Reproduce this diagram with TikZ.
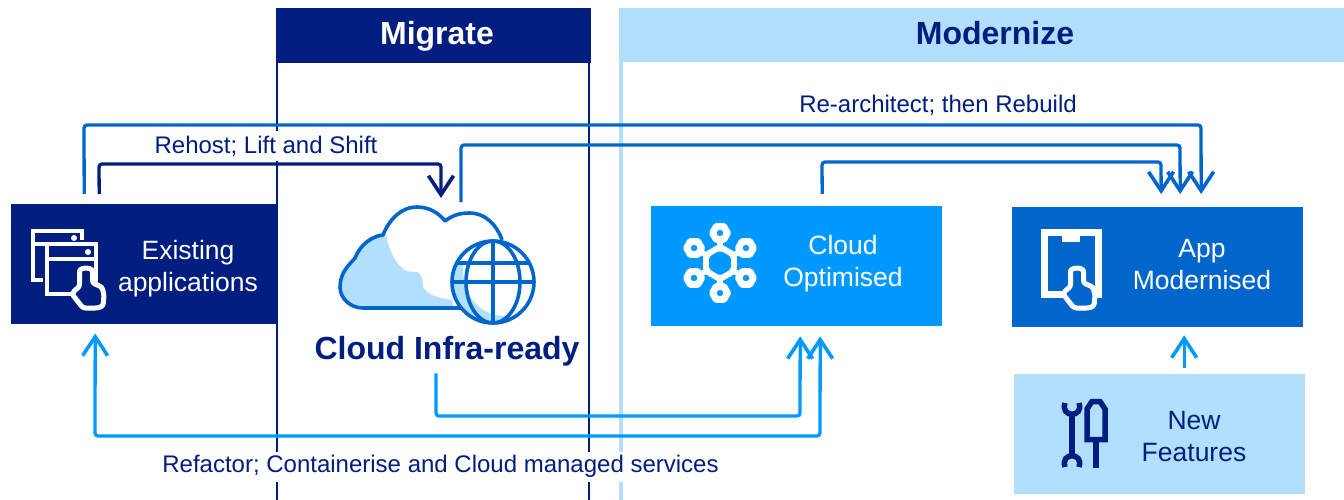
\documentclass[tikz,border=0pt]{standalone}
\usepackage{fontspec}
\setmainfont{Liberation Sans}
\usetikzlibrary{arrows.meta}
\definecolor{navy}{HTML}{001E7F}
\definecolor{midblue}{HTML}{0066CC}
\definecolor{brightblue}{HTML}{0099FF}
\definecolor{paleblue}{HTML}{B3DFFF}
\tikzset{
  tipbarb/.tip={Straight Barb[length=19pt,width=25pt,line width=3.6pt]},
  conn/.style={line width=3.3pt,rounded corners=3pt,-{tipbarb}},
  connboth/.style={line width=3.3pt,rounded corners=3pt,{tipbarb}-{tipbarb}},
  band/.style={inner sep=0pt,minimum height=#1,anchor=north west},
  boxnode/.style={inner sep=0pt,minimum width=291pt,minimum height=120pt,anchor=north west},
  boxtext/.style={font=\fontsize{26.5}{32}\selectfont,align=center,text=white},
  edgelabel/.style={font=\fontsize{24}{28}\selectfont,text=navy,fill=white,inner xsep=0pt,inner ysep=0pt,minimum height=30pt},
  headtext/.style={font=\fontsize{32}{38}\selectfont\bfseries},
  sepline/.style={navy,line width=2.8pt},
}
\newcommand{\handicon}[3]{%
  \begin{scope}[shift={(#1,#2)}]
    \draw[white,line width=5pt,fill=#3,line join=round,rounded corners=2.5pt]
      (-6.5,18) -- (-6.5,5) .. controls (-6.5,-2) and (6.5,-2) .. (6.5,5) -- (6.5,14)
      -- (16,18) -- (18,26) -- (17,37) -- (12,39) -- (-3,39) -- (-7,34) -- (-14,25) -- (-10,20) -- cycle;
  \end{scope}}
\begin{document}
\begin{tikzpicture}[x=1pt,y=-1pt]
\useasboundingbox (0,0) rectangle (1344,500);
% separators
\coordinate (sepAt) at (277,8); \coordinate (sepAb) at (277,500);
\coordinate (sepBt) at (589,8); \coordinate (sepBb) at (589,500);
\coordinate (sepCt) at (621,8); \coordinate (sepCb) at (621,500);
\draw[sepline] (sepAt) -- (sepAb);
\draw[sepline] (sepBt) -- (sepBb);
\draw[paleblue,line width=3.5pt] (sepCt) -- (sepCb);
% headers
\node[band=55pt,minimum width=314pt,fill=navy] (migrate) at (277,8) {};
\node[headtext,text=white] (migratet) at (437,36) {Migrate};
\node[band=54pt,minimum width=725pt,fill=paleblue] (modern) at (619,8) {};
\node[headtext,text=navy] (modernt) at (995,33) {Modernize};
% boxes
\node[boxnode,minimum width=267pt,fill=navy] (exist) at (11,204) {};
\node[boxnode,fill=brightblue] (copt) at (651,206) {};
\node[boxnode,fill=midblue] (amod) at (1012,207) {};
\node[boxnode,fill=paleblue] (newf) at (1014,374) {};
\node[boxtext] (existt) at (188,269) {Existing\\applications};
\node[boxtext] (coptt) at (843,263.5) {Cloud\\Optimised};
\node[boxtext] (amodt) at (1202,265) {App\\Modernised};
\node[boxtext,text=navy] (newft) at (1194,437) {New\\Features};
% cloud target anchor
\node[headtext,text=navy] (cloudt) at (447,351) {Cloud Infra-ready};
\coordinate (cloudtop) at (461,202);
\coordinate (cloudin) at (441,198);
% existing icon
\draw[white,line width=4.7pt,line join=miter] (33,231) rectangle (82,280);
\fill[navy] (43,240) rectangle (96,294);
\draw[white,line width=4.7pt] (33,244) -- (46,244);
\fill[white] (74,238) circle (3pt);
\draw[white,line width=4.7pt] (47,244) rectangle (96,294);
\draw[white,line width=4.7pt] (47,259) -- (96,259);
\fill[white] (88,252) circle (3pt);
\handicon{86}{269}{navy}
% cloud optimised icon
\begin{scope}[shift={(720,263)}]
  \foreach \a in {30,90,...,330} {
    \draw[white,line width=5.5pt] (0,0) -- (\a:22);
    \fill[white,rounded corners=2pt] (\a:30) ++(0:11.5) -- ++(120:11.5) -- ++(180:11.5) -- ++(240:11.5) -- ++(300:11.5) -- ++(0:11.5) -- cycle;
    \fill[brightblue] (\a:30) circle (3.2pt);
  }
  \fill[white,rounded corners=2pt] (30:19.5) -- (90:19.5) -- (150:19.5) -- (210:19.5) -- (270:19.5) -- (330:19.5) -- cycle;
  \fill[brightblue,rounded corners=2pt] (30:12.5) -- (90:12.5) -- (150:12.5) -- (210:12.5) -- (270:12.5) -- (330:12.5) -- cycle;
\end{scope}
% app icon
\draw[white,line width=7pt] (1044.5,232.5) rectangle (1098.5,294.5);
\fill[white] (1062,229) rectangle (1080,242);
\handicon{1077}{269}{midblue}
% tools icon
\fill[navy] (1069,412) rectangle (1075,458);
\draw[navy,line width=5.5pt] (1065,403) .. controls (1060,418) and (1084,418) .. (1079,403);
\draw[navy,line width=5.5pt] (1065,467) .. controls (1060,452) and (1084,452) .. (1079,467);
\draw[navy,line width=5.5pt,line join=miter] (1087,439.5) -- (1087,409) -- (1092,401.5) -- (1100,401.5) -- (1105,409) -- (1105,439.5) -- cycle;
\fill[navy] (1093,442) rectangle (1099,468);
% cloud icon
\fill[paleblue] (363,308) .. controls (350,308) and (340,298) .. (340,287) .. controls (340,272) and (350,264) .. (355,258)
  .. controls (360,245) and (372,236) .. (386,235) .. controls (390,255) and (400,272) .. (412,272)
  .. controls (422,270) and (422,278) .. (423,287) .. controls (428,296) and (440,298) .. (452,300) .. controls (453,304) and (453,306) .. (453,308) -- cycle;
\draw[midblue,line width=3.6pt,line join=round] (463,308) -- (363,308) .. controls (350,308) and (340,298) .. (340,287)
  .. controls (340,272) and (350,264) .. (355,258) .. controls (360,245) and (372,236) .. (383,235)
  .. controls (390,218) and (402,207) .. (417,207) .. controls (428,207) and (438,212) .. (445,221)
  .. controls (453,215) and (460,213) .. (470,213) .. controls (485,213) and (497,225) .. (502,240);
% globe
\fill[white] (493,282) circle (41pt);
\begin{scope}
  \clip (493,282) circle (41pt);
  \fill[paleblue] (463,264) .. controls (461,295) and (480,318) .. (510,316) -- (510,330) -- (440,330) -- (440,264) -- cycle;
  \draw[midblue,line width=3.6pt] (440,263) -- (550,263);
  \draw[midblue,line width=3.6pt] (440,282) -- (550,282);
\end{scope}
\draw[midblue,line width=3.6pt] (493,241) -- (493,323);
\draw[midblue,line width=3.6pt] (493,282) ellipse (27pt and 41pt);
\draw[midblue,line width=3.6pt] (493,282) circle (41pt);
% labels (their white ground breaks the separators)
\node[edgelabel] (l1) at (938,105) {Re-architect; then Rebuild};
\node[edgelabel] (l2) at (266,146) {Rehost; Lift and Shift};
\node[edgelabel] (l3) at (440.5,466.5) {Refactor; Containerise and Cloud managed services};
% connectors
\draw[conn,midblue] ([xshift=-60.5pt,yshift=10pt]exist.north) -- (84,125) -- (1201,125) -- ([xshift=43.5pt,yshift=13pt]amod.north);
\draw[conn,midblue] (cloudtop) -- (461,145) -- (1180,145) -- ([xshift=22.5pt,yshift=13pt]amod.north);
\draw[conn,midblue] ([xshift=25.5pt,yshift=12pt]copt.north) -- (822,162) -- (1161,162) -- ([xshift=3.5pt,yshift=13pt]amod.north);
\draw[conn,navy] ([xshift=-45.5pt,yshift=10pt]exist.north) -- (99,164) -- (441,164) -- (cloudin);
\draw[conn,brightblue] ([xshift=-11pt,yshift=-4pt]cloudt.south) -- (436,416) -- (800,416) -- ([xshift=3.5pt,yshift=-10pt]copt.south);
\draw[connboth,brightblue] ([xshift=-49.5pt,yshift=-9pt]exist.south) -- (95,436) -- (820,436) -- ([xshift=23.5pt,yshift=-10pt]copt.south);
\draw[conn,brightblue] ([xshift=24.5pt,yshift=6pt]newf.north) -- ([xshift=26.5pt,yshift=-8pt]amod.south);
\end{tikzpicture}
\end{document}
